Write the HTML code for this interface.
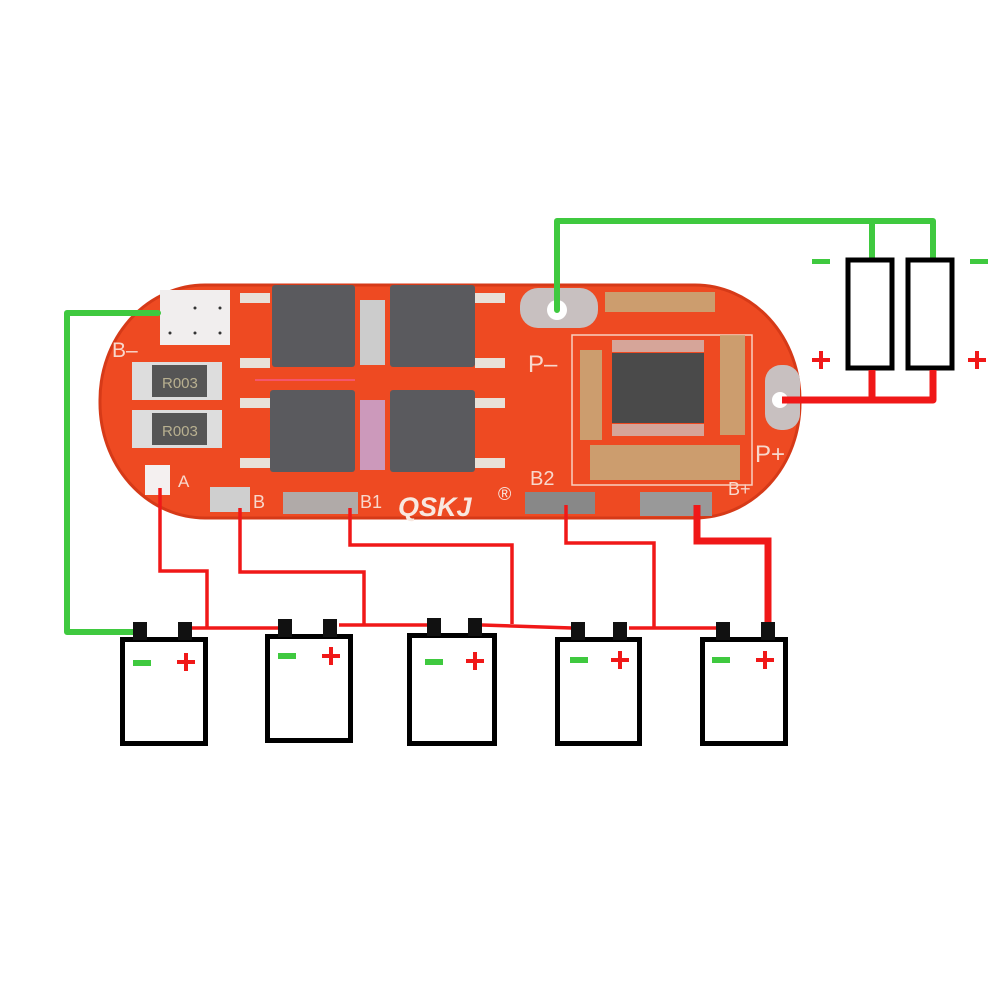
<!DOCTYPE html>
<html><head><meta charset="utf-8"><style>html,body{margin:0;padding:0;background:#fff}svg{display:block}</style></head>
<body>
<svg width="1002" height="1002" viewBox="0 0 1002 1002" xmlns="http://www.w3.org/2000/svg" font-family="Liberation Sans, sans-serif">
<rect width="1002" height="1002" fill="#fff"/>
<!-- board -->
<rect x="100" y="285" width="700" height="233" rx="105" ry="115" fill="#ee4a22"/>
<rect x="100" y="285" width="700" height="233" rx="105" ry="115" fill="none" stroke="#d63a18" stroke-width="3"/>
<!-- B- pad -->
<rect x="160" y="290" width="70" height="55" fill="#f1eeee"/>
<g fill="#333"><circle cx="195" cy="308" r="1.5"/><circle cx="220" cy="308" r="1.5"/><circle cx="170" cy="333" r="1.5"/><circle cx="195" cy="333" r="1.5"/><circle cx="220" cy="333" r="1.5"/></g>
<text x="112" y="357" fill="#f8d8cc" font-size="21">B–</text>
<!-- resistors -->
<rect x="132" y="362" width="90" height="38" fill="#ddd"/>
<rect x="152" y="365" width="55" height="32" fill="#555"/>
<text x="162" y="388" fill="#b8b090" font-size="15">R003</text>
<rect x="132" y="410" width="90" height="38" fill="#ddd"/>
<rect x="152" y="413" width="55" height="32" fill="#555"/>
<text x="162" y="436" fill="#b8b090" font-size="15">R003</text>
<!-- mosfets -->
<g fill="#e8e0d8">
<rect x="240" y="293" width="30" height="10"/><rect x="240" y="358" width="30" height="10"/>
<rect x="240" y="398" width="30" height="10"/><rect x="240" y="458" width="30" height="10"/>
<rect x="475" y="293" width="30" height="10"/><rect x="475" y="358" width="30" height="10"/>
<rect x="475" y="398" width="30" height="10"/><rect x="475" y="458" width="30" height="10"/>
<rect x="360" y="300" width="25" height="65" fill="#ccc"/><rect x="360" y="400" width="25" height="70" fill="#c9b"/>
</g>
<g fill="#5a5a5e">
<rect x="272" y="285" width="83" height="82" rx="3"/>
<rect x="390" y="285" width="85" height="82" rx="3"/>
<rect x="270" y="390" width="85" height="82" rx="3"/>
<rect x="390" y="390" width="85" height="82" rx="3"/>
</g>
<line x1="255" y1="380" x2="355" y2="380" stroke="#f6d" stroke-opacity=".4" stroke-width="2"/>
<!-- bottom pads -->
<rect x="145" y="465" width="25" height="30" fill="#f4f0f0"/>
<text x="178" y="487" fill="#f8d8cc" font-size="17">A</text>
<rect x="210" y="487" width="40" height="25" fill="#cfcfcf"/>
<text x="253" y="508" fill="#f8d8cc" font-size="18">B</text>
<rect x="283" y="492" width="75" height="22" fill="#b0aaa8"/>
<text x="360" y="508" fill="#f8d8cc" font-size="18">B1</text>
<text x="398" y="516" fill="#f8e8e0" font-size="27" font-weight="bold" font-style="italic">QSKJ</text>
<text x="498" y="500" fill="#f8e8e0" font-size="18">®</text>
<text x="530" y="485" fill="#f8d8cc" font-size="20">B2</text>
<rect x="525" y="492" width="70" height="22" fill="#888"/>
<rect x="640" y="492" width="72" height="24" fill="#999"/>
<text x="728" y="495" fill="#f8d8cc" font-size="18">B+</text>
<!-- P- pad -->
<rect x="520" y="288" width="78" height="40" rx="18" fill="#c8c0c0"/>
<circle cx="557" cy="310" r="10" fill="#fff"/>
<text x="528" y="372" fill="#f8d8cc" font-size="24">P–</text>
<!-- IC area -->
<rect x="572" y="335" width="180" height="150" fill="none" stroke="#f8d0c0" stroke-width="1.5"/>
<rect x="612" y="353" width="92" height="70" fill="#4a4a4a"/>
<g fill="#ccc">
<rect x="612" y="340" width="92" height="12" opacity=".7"/><rect x="612" y="424" width="92" height="12" opacity=".7"/>
</g>
<g fill="#c9a777" opacity=".9">
<rect x="605" y="292" width="110" height="20"/><rect x="590" y="445" width="150" height="35"/>
<rect x="580" y="350" width="22" height="90"/><rect x="720" y="335" width="25" height="100"/>
</g>
<!-- P+ pad -->
<rect x="765" y="365" width="35" height="65" rx="16" fill="#c8c0c0"/>
<circle cx="780" cy="400" r="8" fill="#fff"/>
<text x="755" y="462" fill="#f8d8cc" font-size="24">P+</text>
<!-- green wires -->
<g fill="none" stroke="#3fc93f" stroke-width="6" stroke-linecap="round" stroke-linejoin="round">
<polyline points="557,310 557,221 933,221 933,258"/>
<line x1="872" y1="221" x2="872" y2="258"/>
<polyline points="158,313 67,313 67,632 133,632"/>
</g>
<rect x="812" y="259" width="18" height="5" fill="#3fc93f"/>
<rect x="970" y="259" width="18" height="5" fill="#3fc93f"/>
<!-- load resistors -->
<rect x="848" y="260" width="44" height="108" fill="#fff" stroke="#000" stroke-width="5"/>
<rect x="908" y="260" width="44" height="108" fill="#fff" stroke="#000" stroke-width="5"/>
<g fill="#f01818"><rect x="812" y="358" width="18" height="4"/><rect x="819" y="351" width="4" height="18"/>
<rect x="968" y="358" width="18" height="4"/><rect x="975" y="351" width="4" height="18"/></g>
<g fill="none" stroke="#f01818" stroke-width="7" stroke-linejoin="round">
<polyline points="782,400 933,400 933,370"/>
<line x1="872" y1="400" x2="872" y2="370"/>
</g>
<!-- red board wires -->
<g fill="none" stroke="#f01818" stroke-width="3.5" stroke-linejoin="miter">
<polyline points="160,488 160,571 207,571 207,628"/>
<polyline points="240,508 240,572 364,572 364,625"/>
<polyline points="350,508 350,545 512,545 512,624"/>
<polyline points="566,505 566,543 654,543 654,628"/>
<line x1="192" y1="628" x2="282" y2="628"/>
<line x1="339" y1="625" x2="430" y2="625"/>
<line x1="482" y1="625" x2="572" y2="628"/>
<line x1="629" y1="628" x2="717" y2="628"/>
</g>
<polyline points="697,505 697,541 768,541 768,625" fill="none" stroke="#f01818" stroke-width="7"/>
<!-- batteries -->
<g transform="translate(120,0)">
<rect x="2.5" y="639.5" width="83" height="104" fill="#fff" stroke="#000" stroke-width="5"/>
<rect x="13" y="622" width="14" height="18" fill="#111"/><rect x="58" y="622" width="14" height="18" fill="#111"/>
<rect x="13" y="660" width="18" height="6" fill="#3fc93f"/>
<rect x="57" y="660" width="18" height="4" fill="#f01818"/><rect x="64" y="653" width="4" height="18" fill="#f01818"/>
</g>
<g transform="translate(265,-3)">
<rect x="2.5" y="639.5" width="83" height="104" fill="#fff" stroke="#000" stroke-width="5"/>
<rect x="13" y="622" width="14" height="18" fill="#111"/><rect x="58" y="622" width="14" height="18" fill="#111"/>
<rect x="13" y="656" width="18" height="6" fill="#3fc93f"/>
<rect x="57" y="657" width="18" height="4" fill="#f01818"/><rect x="64" y="650" width="4" height="18" fill="#f01818"/>
</g>
<g transform="translate(407,-4)">
<rect x="2.5" y="639.5" width="85" height="108" fill="#fff" stroke="#000" stroke-width="5"/>
<rect x="20" y="622" width="14" height="18" fill="#111"/><rect x="61" y="622" width="14" height="18" fill="#111"/>
<rect x="18" y="663" width="18" height="6" fill="#3fc93f"/>
<rect x="59" y="663" width="18" height="4" fill="#f01818"/><rect x="66" y="656" width="4" height="18" fill="#f01818"/>
</g>
<g transform="translate(555,0)">
<rect x="2.5" y="639.5" width="82" height="104" fill="#fff" stroke="#000" stroke-width="5"/>
<rect x="16" y="622" width="14" height="18" fill="#111"/><rect x="58" y="622" width="14" height="18" fill="#111"/>
<rect x="15" y="657" width="18" height="6" fill="#3fc93f"/>
<rect x="56" y="658" width="18" height="4" fill="#f01818"/><rect x="63" y="651" width="4" height="18" fill="#f01818"/>
</g>
<g transform="translate(700,0)">
<rect x="2.5" y="639.5" width="83" height="104" fill="#fff" stroke="#000" stroke-width="5"/>
<rect x="16" y="622" width="14" height="18" fill="#111"/><rect x="61" y="622" width="14" height="18" fill="#111"/>
<rect x="12" y="657" width="18" height="6" fill="#3fc93f"/>
<rect x="56" y="658" width="18" height="4" fill="#f01818"/><rect x="63" y="651" width="4" height="18" fill="#f01818"/>
</g>
</svg>
</body></html>
